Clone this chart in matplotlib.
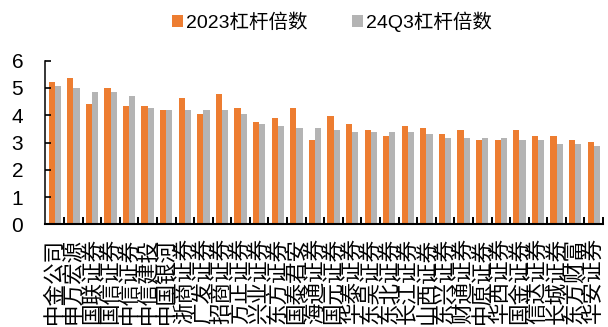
import numpy as np
import matplotlib
matplotlib.use("Agg")
import matplotlib.pyplot as plt
from matplotlib.ticker import FixedLocator

plt.rcParams['font.family'] = ['Liberation Sans', 'Noto Sans CJK SC', 'DejaVu Sans']

brokers = [
    "中金公司", "申万宏源", "国联证券", "国信证券", "中信证券", "中信建投",
    "中国银河", "浙商证券", "广发证券", "招商证券", "方正证券", "兴业证券",
    "东方证券", "国泰君安", "海通证券", "国元证券", "华泰证券", "东吴证券",
    "东北证券", "长江证券", "山西证券", "东兴证券", "财通证券", "中原证券",
    "华西证券", "国金证券", "信达证券", "长城证券", "东方财富", "华安证券",
]
lev_2023 = [5.22, 5.36, 4.41, 5.00, 4.34, 4.34, 4.19, 4.63, 4.04, 4.78,
            4.26, 3.75, 3.90, 4.26, 3.09, 3.97, 3.67, 3.46, 3.24, 3.60,
            3.53, 3.31, 3.46, 3.09, 3.09, 3.46, 3.24, 3.24, 3.09, 3.02]
lev_24q3 = [5.07, 5.00, 4.85, 4.85, 4.70, 4.26, 4.19, 4.19, 4.19, 4.19,
            4.04, 3.67, 3.60, 3.53, 3.53, 3.46, 3.38, 3.38, 3.38, 3.38,
            3.31, 3.16, 3.16, 3.16, 3.16, 3.09, 3.09, 2.94, 2.94, 2.87]
series_names = ["2023杠杆倍数", "24Q3杠杆倍数"]

fig = plt.figure(figsize=(6.08, 3.27), dpi=100)
ax = fig.add_axes([0.0748, 0.314, 0.9170, 0.5003])

x = np.arange(len(brokers))
w = 1 / 3
ax.bar(x - w / 2, lev_2023, width=w, color="#ED7D31", label=series_names[0])
ax.bar(x + w / 2, lev_24q3, width=w, color="#B4B4B4", label=series_names[1])

ax.set_xlim(-0.5, len(brokers) - 0.5)
ax.set_ylim(0, 6)
ax.set_yticks(range(0, 7))

# category labels at centres, tick marks at the group boundaries
ax.set_xticks(x)
ax.set_xticklabels(brokers, rotation=90, fontsize=15.5, va="top", ha="center")
ax.tick_params(axis="x", which="major", length=0, pad=10)
ax.xaxis.set_minor_locator(FixedLocator(np.arange(0.5, len(brokers), 1.0)))
ax.tick_params(axis="x", which="minor", direction="in", length=5, width=1.4)
ax.tick_params(axis="y", direction="in", length=4.5, width=1.2, labelsize=15, pad=16)

for s in ["top", "right"]:
    ax.spines[s].set_visible(False)
ax.spines["left"].set_linewidth(1.1)
ax.spines["bottom"].set_linewidth(1.5)

fig.legend(loc="center", bbox_to_anchor=(0.546, 0.933), ncol=2, frameon=False,
           fontsize=14, handlelength=0.6, handleheight=0.6, handletextpad=0.15,
           columnspacing=2.25)

fig.savefig("out.png", dpi=100)
